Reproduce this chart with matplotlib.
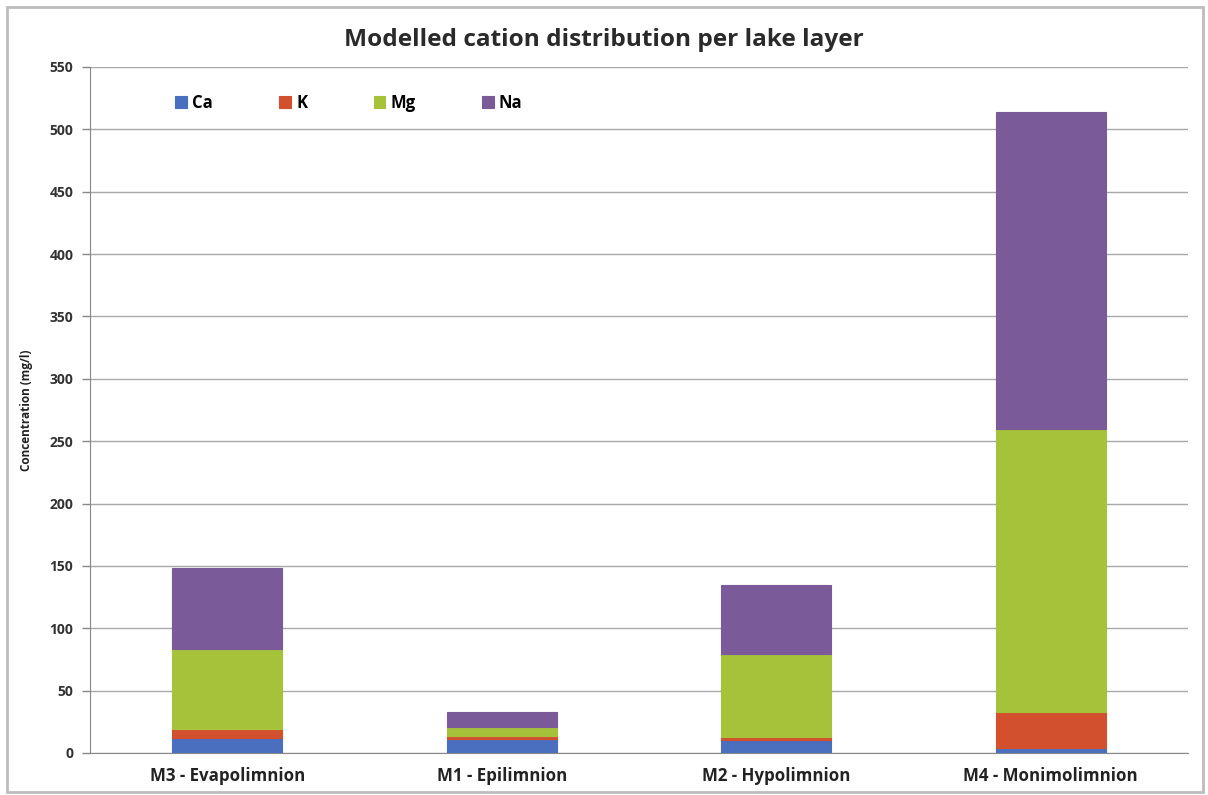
import matplotlib
matplotlib.use("Agg")
import matplotlib.pyplot as plt
from matplotlib.patches import Rectangle
import numpy as np

plt.rcParams['font.family'] = ['Open Sans', 'DejaVu Sans']

layers = ["M3 - Evapolimnion", "M1 - Epilimnion", "M2 - Hypolimnion", "M4 - Monimolimnion"]
ca = [12, 11, 10.5, 4]
k = [7.5, 2.5, 2.5, 29]
mg = [64, 7, 66, 227]
na = [65, 12, 56, 254]

series = [("Ca", ca, "#4A6FBE"), ("K", k, "#D2502E"),
          ("Mg", mg, "#A5C23A"), ("Na", na, "#7A5A98")]

fig = plt.figure(figsize=(12.08, 7.95), dpi=100)
ax = fig.add_axes([90 / 1208, 1 - 753 / 795, 1098 / 1208, (753 - 67) / 795])

# outer chart frame
fig.patches.append(Rectangle((7 / 1208, 3 / 795), 1196 / 1208, 785 / 795,
                             transform=fig.transFigure, fill=False,
                             edgecolor="#BDBDBD", linewidth=2.0))

x = np.arange(len(layers))
width = 0.40
bottom = np.zeros(len(layers))
handles = []
for name, vals, color in series:
    vals = np.array(vals, dtype=float)
    b = ax.bar(x, vals, width, bottom=bottom, color=color, edgecolor=color,
               linewidth=0.8, label=name, zorder=3)
    handles.append(b)
    bottom += vals

ax.set_xlim(-0.5, len(layers) - 0.5)
ax.set_ylim(0, 550)
ax.set_yticks(np.arange(0, 551, 50))
ax.set_xticks(x)
ax.set_xticklabels(layers, fontsize=12.2, fontweight="bold", color="#222222")
ax.tick_params(axis="x", length=0, pad=10)
ax.tick_params(axis="y", length=6, width=1, color="#888888", labelsize=10,
               labelcolor="#333333", pad=6)
for lbl in ax.get_yticklabels():
    lbl.set_fontweight("bold")

ax.grid(axis="y", color="#A8A8A8", linewidth=1.0, zorder=0)
for side in ["top", "right"]:
    ax.spines[side].set_visible(False)
ax.spines["left"].set_color("#888888")
ax.spines["bottom"].set_color("#888888")

ax.set_ylabel("Concentration (mg/l)", fontsize=8.5, fontweight="bold",
              color="#222222", labelpad=12)

fig.text(0.5, 1 - 40 / 795, "Modelled cation distribution per lake layer",
         ha="center", va="center", fontsize=17.6, fontweight="bold", color="#2A2A2A")

leg = ax.legend(handles=handles, loc="upper left", bbox_to_anchor=(0.064, 0.983),
                ncol=4, frameon=False, handlelength=0.7,
                handleheight=0.7, handletextpad=0.3, columnspacing=4.0,
                prop={"weight": "bold", "size": 12})

fig.savefig("out.png", dpi=100, facecolor="white")
